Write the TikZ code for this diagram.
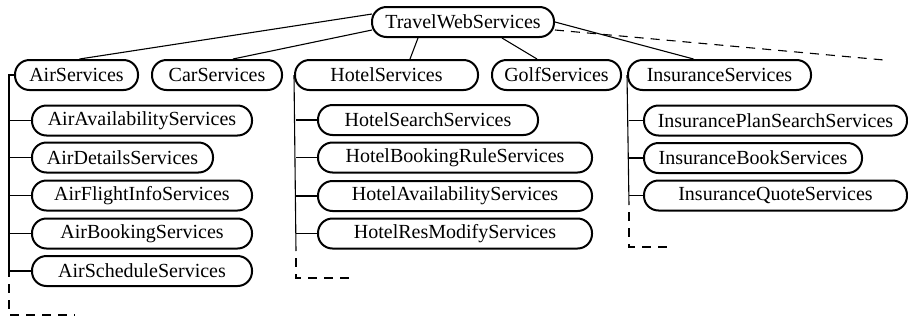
\documentclass[tikz,border=0pt]{standalone}
\usepackage{fontspec}
\setmainfont{Liberation Serif}
\begin{document}
\begin{tikzpicture}[x=1pt,y=-1pt,
  pill/.style={draw, line width=2pt, rounded corners=14.5pt, minimum height=30pt,
    inner sep=0pt, font=\fontsize{20}{24}\selectfont},
  conn/.style={line width=1.1pt},
  dconn/.style={line width=1.1pt, dash pattern=on 9pt off 7pt}]
\useasboundingbox (0,0) rectangle (908,322);
% top nodes
\node[pill, minimum width=182pt] (root) at (463,22) {TravelWebServices};
\node[pill, minimum width=123pt] (air) at (76.5,75) {AirServices};
\node[pill, minimum width=130pt] (car) at (217,75) {CarServices};
\node[pill, minimum width=183pt] (hotel) at (386.5,75) {HotelServices};
\node[pill, minimum width=129pt] (golf) at (556.5,75) {GolfServices};
\node[pill, minimum width=183pt] (ins) at (719.5,75) {InsuranceServices};
% air children
\node[pill, minimum width=220pt] (a1) at (142,120.5) {AirAvailabilityServices};
\node[pill, minimum width=181pt] (a2) at (122.5,157.5) {AirDetailsServices};
\node[pill, minimum width=220pt] (a3) at (142,195.5) {AirFlightInfoServices};
\node[pill, minimum width=220pt] (a4) at (142,233.5) {AirBookingServices};
\node[pill, minimum width=220pt] (a5) at (142,271) {AirScheduleServices};
% hotel children
\node[pill, minimum width=220pt] (h1) at (428,120) {HotelSearchServices};
\node[pill, minimum width=274pt] (h2) at (455,157.5) {HotelBookingRuleServices};
\node[pill, minimum width=274pt] (h3) at (455,196) {HotelAvailabilityServices};
\node[pill, minimum width=274pt] (h4) at (455,233.5) {HotelResModifyServices};
% insurance children
\node[pill, minimum width=263pt] (i1) at (775.5,120.5) {InsurancePlanSearchServices};
\node[pill, minimum width=218pt] (i2) at (753,158) {InsuranceBookServices};
\node[pill, minimum width=263pt] (i3) at (775.5,195.5) {InsuranceQuoteServices};
% coordinates
\coordinate (airtop) at (9,75);
\coordinate (airend) at (9,277);
\coordinate (aircorner) at (9,315);
\coordinate (airdash) at (75,315);
\coordinate (hotend) at (296,251);
\coordinate (hotcorner) at (296,278);
\coordinate (hotdash) at (350,278);
\coordinate (insend) at (629,205);
\coordinate (inscorner) at (629,247);
\coordinate (insdash) at (667,247);
\coordinate (more) at (884,60);
% root edges
\draw[conn] ([shift={(1,-8)}]root.west) -- ([xshift=3pt]air.north);
\draw[conn] ([shift={(1,8)}]root.west) -- ([xshift=16pt]car.north);
\draw[conn] ([xshift=-45pt]root.south) -- ([xshift=23.5pt]hotel.north);
\draw[conn] ([xshift=39pt]root.south) -- ([xshift=-19.5pt]golf.north);
\draw[conn] (root.east) -- ([xshift=-26pt]ins.north);
\draw[dconn] ([yshift=-8pt]root.east) -- (more);
% air tree
\draw[conn] (air.west) -- (airtop) -- (airend);
\foreach \n in {a1,a2,a3,a4,a5} \draw[conn] (\n.west) -- (airtop |- \n.west);
\draw[dconn, dash phase=9pt] (airend) -- (aircorner) -- (airdash);
% hotel tree
\draw[conn] (hotel.west) -- (hotend);
\foreach \n in {h1,h2,h3,h4} \draw[conn] (\n.west) -- (hotend |- \n.west);
\draw[dconn, dash phase=9pt] (hotend) -- (hotcorner) -- (hotdash);
% insurance tree
\draw[conn] (ins.west) -- (insend);
\foreach \n in {i1,i2,i3} \draw[conn] (\n.west) -- (insend |- \n.west);
\draw[dconn, dash phase=9pt] (insend) -- (inscorner) -- (insdash);
\end{tikzpicture}
\end{document}
